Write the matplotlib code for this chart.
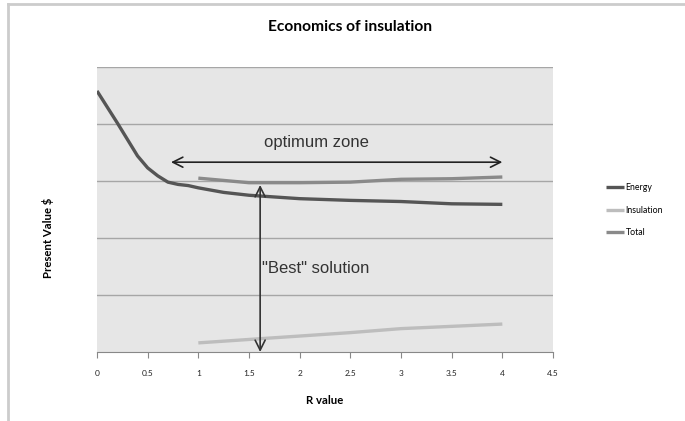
import matplotlib.pyplot as plt
from matplotlib.lines import Line2D

# values (y axis has no labels, gridlines at 1 unit)
energy_x = [0, 0.1, 0.2, 0.3, 0.4, 0.5, 0.6, 0.7, 0.8, 0.9, 1.0, 1.25, 1.5, 2.0, 2.5, 3.0, 3.5, 4.0]
energy_y = [4.58, 4.30, 4.02, 3.73, 3.44, 3.23, 3.09, 2.98, 2.94, 2.92, 2.88, 2.80, 2.75, 2.69, 2.66, 2.64, 2.60, 2.59]

r_values = [1.0, 1.5, 2.0, 2.5, 3.0, 3.5, 4.0]
insulation_y = [0.16, 0.22, 0.28, 0.34, 0.41, 0.45, 0.49]
total_y = [3.05, 2.97, 2.97, 2.98, 3.03, 3.04, 3.07]

x_ticks = [0, 0.5, 1, 1.5, 2, 2.5, 3, 3.5, 4, 4.5]
x_tick_labels = ['0', '0.5', '1', '1.5', '2', '2.5', '3', '3.5', '4', '4.5']

fig = plt.figure(figsize=(6.85, 4.21), dpi=100)
ax = fig.add_axes([97 / 685, 1 - 352 / 421, 456 / 685, 285 / 421])
ax.set_facecolor('#e6e6e6')

ax.plot(energy_x, energy_y, color='#555555', lw=2.4, label='Energy', solid_capstyle='butt')
ax.plot(r_values, insulation_y, color='#bdbdbd', lw=2.4, label='Insulation', solid_capstyle='butt')
ax.plot(r_values, total_y, color='#8a8a8a', lw=2.4, label='Total', solid_capstyle='butt')

ax.set_xlim(0, 4.5)
ax.set_ylim(0, 5)
ax.set_yticks([1, 2, 3, 4, 5])
ax.yaxis.grid(True, color='#a6a6a6', lw=1)
ax.set_axisbelow(True)
ax.tick_params(axis='y', length=0, labelleft=False)
ax.set_xticks(x_ticks)
ax.set_xticklabels(x_tick_labels, fontsize=6, fontname='Lato', color='#222222')
ax.tick_params(axis='x', direction='out', length=4, color='#888888', pad=9)
for side in ['left', 'right', 'top']:
    ax.spines[side].set_visible(False)
ax.spines['bottom'].set_color('#888888')

# annotations
ax.annotate('', xy=(0.73, 3.33), xytext=(4.0, 3.33),
            arrowprops=dict(arrowstyle='<->', color='#222222', lw=1.2, mutation_scale=18,
                            shrinkA=0, shrinkB=0))
ax.text(2.17, 3.67, 'optimum zone', fontsize=12, fontname='Liberation Sans',
        color='#333333', ha='center', va='center')
ax.annotate('', xy=(1.61, 2.93), xytext=(1.61, 0.0),
            arrowprops=dict(arrowstyle='<->', color='#333333', lw=1.2, mutation_scale=18,
                            shrinkA=0, shrinkB=0))
ax.text(1.63, 1.47, '"Best" solution', fontsize=12, fontname='Liberation Sans',
        color='#333333', ha='left', va='center')

fig.text(350 / 685, 1 - 27 / 421, 'Economics of insulation', fontsize=11.2,
         fontname='Lato', fontweight='bold', ha='center', va='center')
fig.text(48 / 685, 1 - 238 / 421, 'Present Value $', fontsize=8.2, fontname='Lato',
         fontweight='bold', rotation=90, ha='center', va='center')
fig.text(325 / 685, 1 - 400 / 421, 'R value', fontsize=8.2, fontname='Lato',
         fontweight='bold', ha='center', va='center')

fig.legend(loc='upper left', bbox_to_anchor=(606 / 685, 1 - 183 / 421), frameon=False,
           prop={'family': 'Lato', 'size': 6.3}, handlelength=2.1, handletextpad=0.15,
           labelspacing=1.55, borderpad=0, borderaxespad=0)

# chart frame edges
fig.add_artist(Line2D([8 / 685, 8 / 685], [0, 1 - 4 / 421], color='#cccccc', lw=2))
fig.add_artist(Line2D([8 / 685, 1], [1 - 4 / 421, 1 - 4 / 421], color='#cccccc', lw=2))

fig.savefig('out.png', dpi=100)
